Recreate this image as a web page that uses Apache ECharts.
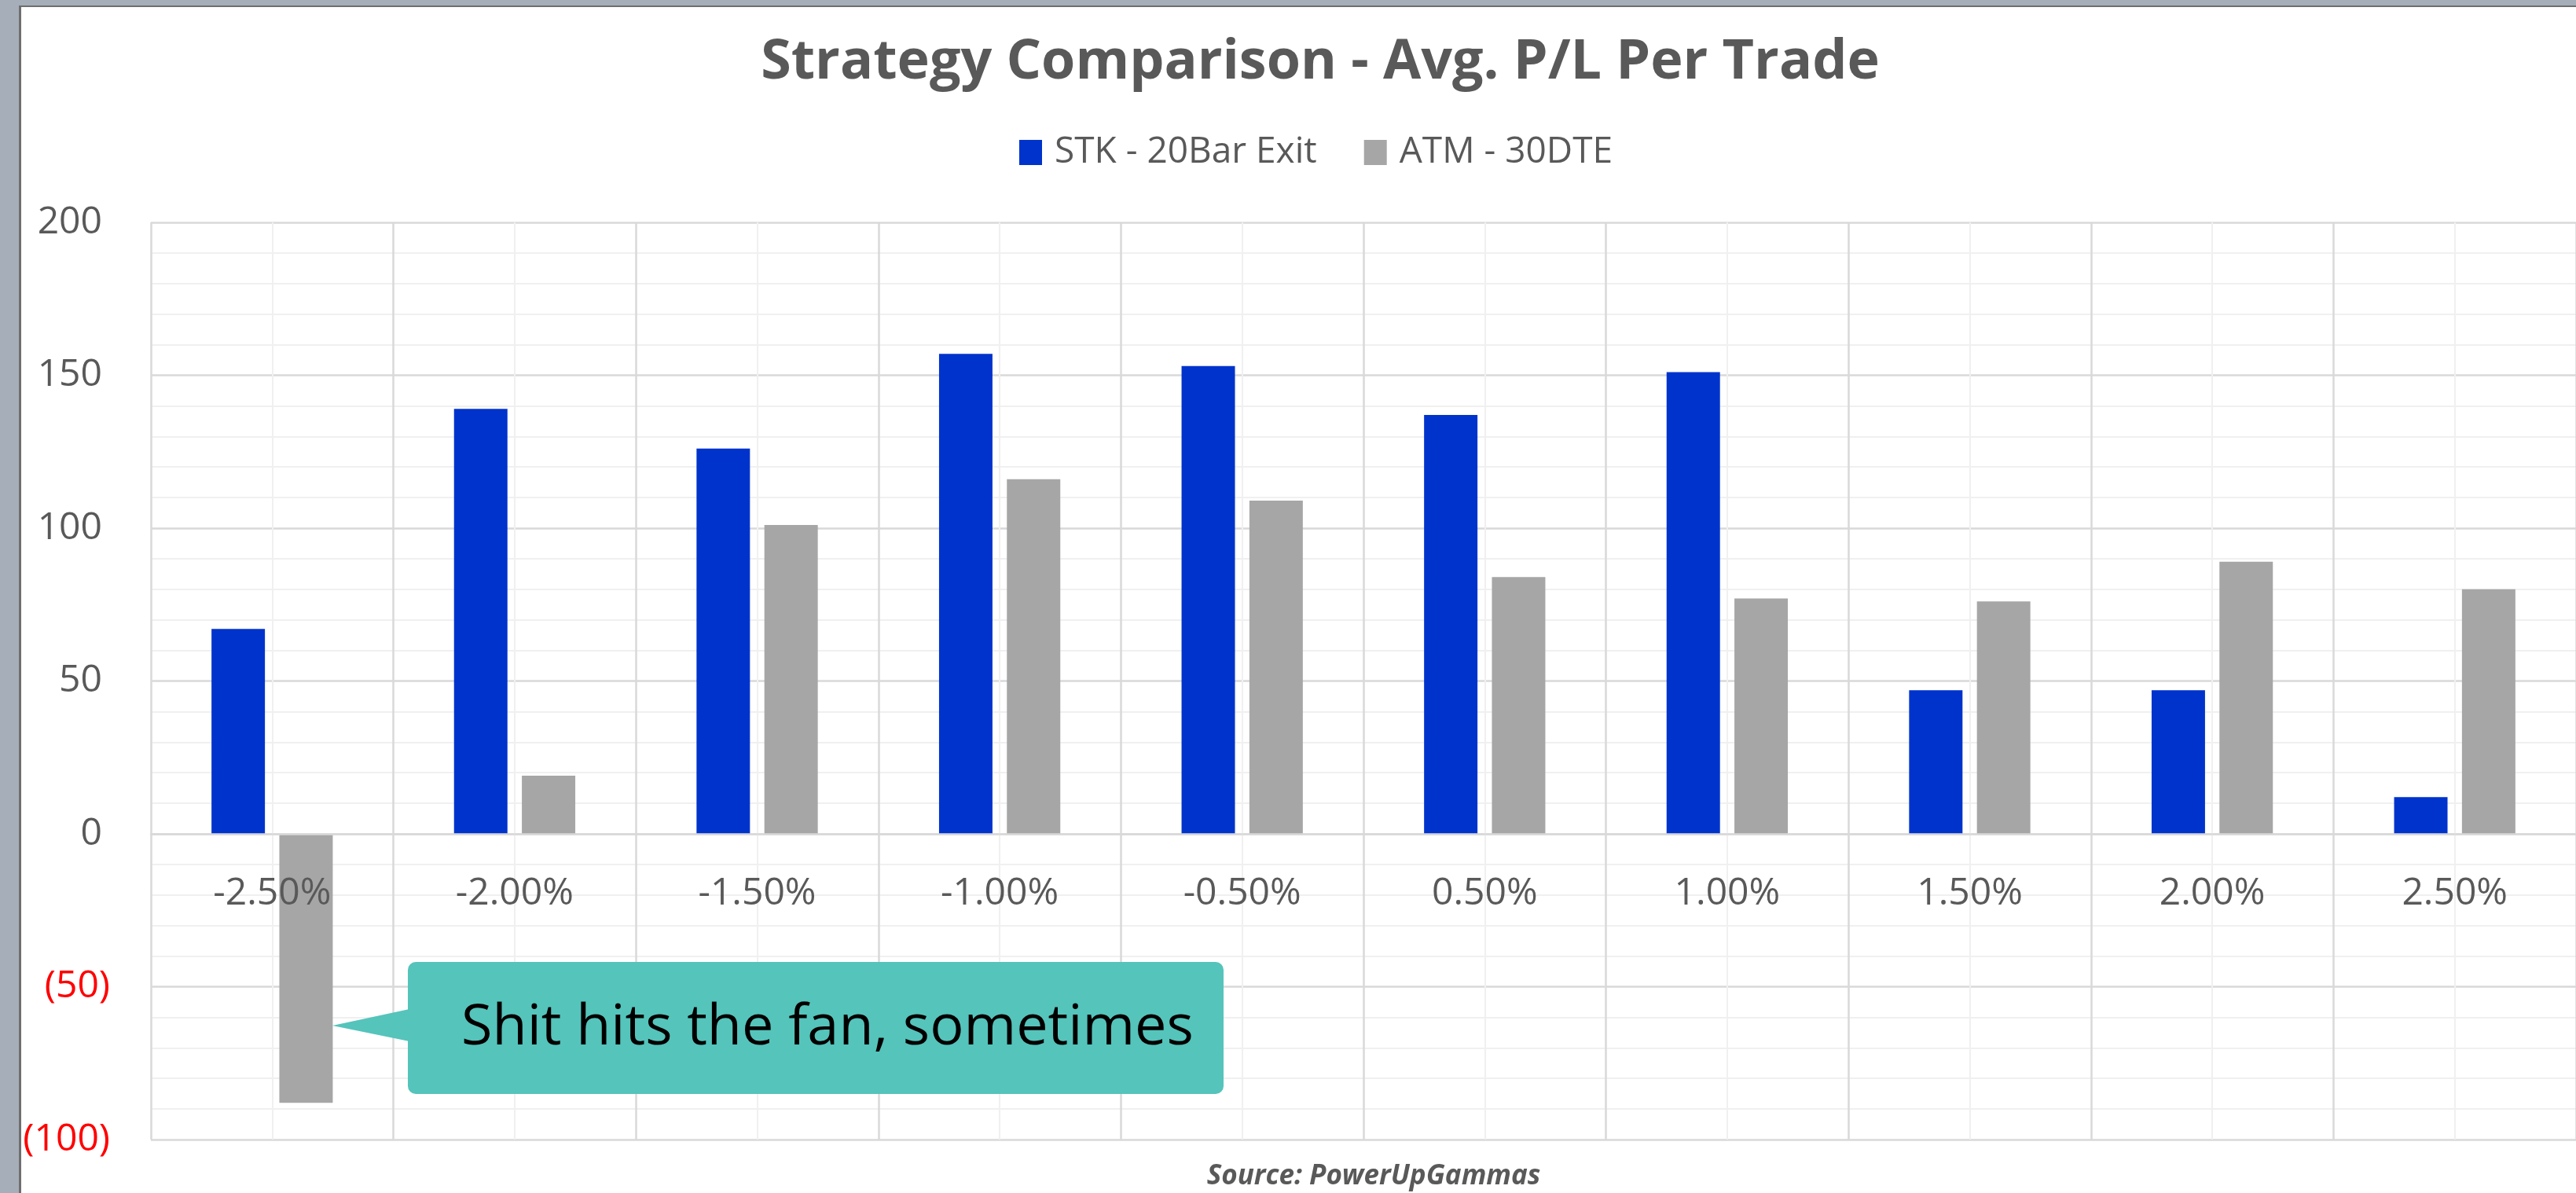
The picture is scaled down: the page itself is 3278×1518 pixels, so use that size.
<!DOCTYPE html>
<html>
<head>
<meta charset="utf-8">
<title>Strategy Comparison</title>
<script src="https://cdn.jsdelivr.net/npm/echarts@6/dist/echarts.min.js"></script>
<style>
  html, body { margin: 0; padding: 0; background: #fff; }
  #chart { width: 3278px; height: 1518px; }
</style>
</head>
<body>
<div id="chart"></div>
<script>
// strike offsets
var categories = ['-2.50%', '-2.00%', '-1.50%', '-1.00%', '-0.50%', '0.50%', '1.00%', '1.50%', '2.00%', '2.50%']

// avg P/L per trade
var stkValues = [67, 139, 126, 157, 153, 137, 151, 47, 47, 12]
var atmValues = [-88, 19, 101, 116, 109, 84, 77, 76, 89, 80]

var seriesNames = ['STK - 20Bar Exit', 'ATM - 30DTE']

var yMin = -100
var yMax = 200
var yStep = 50

var textColor = '#595959'
var font = 'Open Sans'

var gridTop = 283
var gridBottom = 68
var plotHeight = 1518 - gridTop - gridBottom
// move the category axis up to the zero line (onZero didn't take)
var zeroOffset = -plotHeight * (0 - yMin) / (yMax - yMin)

var myChart = echarts.init(document.getElementById('chart'))

var option = {
  backgroundColor: '#ffffff',
  animation: false,
  title: {
    text: 'Strategy Comparison - Avg. P/L Per Trade',
    left: 1675,
    top: 40,
    textAlign: 'center',
    textStyle: {
      fontFamily: font,
      fontWeight: 'bold',
      fontSize: 70,
      color: textColor
    }
  },
  legend: {
    data: seriesNames,
    left: 1292,
    top: 166,
    icon: 'rect',
    itemWidth: 29,
    itemHeight: 32,
    itemGap: 60,
    textStyle: {
      fontFamily: font,
      fontSize: 46,
      color: textColor,
      padding: [0, 0, 0, 11]
    }
  },
  grid: {
    left: 192,
    right: -33,
    top: gridTop,
    bottom: gridBottom,
    containLabel: false
  },
  xAxis: [
    {
      type: 'category',
      data: categories,
      position: 'bottom',
      offset: zeroOffset,
      z: 5,
      axisLine: { show: true, onZero: false, lineStyle: { color: '#d9d9d9', width: 2.5 } },
      axisTick: { show: false },
      splitLine: { show: false },
      axisLabel: {
        margin: 52,
        fontFamily: font,
        fontSize: 48,
        color: textColor
      }
    },
    {
      // only for the vertical grid lines
      type: 'value',
      position: 'top',
      min: 0,
      max: categories.length,
      interval: 1,
      axisLine: { show: false, onZero: false },
      axisTick: { show: false },
      axisLabel: { show: false },
      splitLine: { show: true, lineStyle: { color: '#d9d9d9', width: 2.5 } },
      minorTick: { show: false, splitNumber: 2 },
      minorSplitLine: { show: true, lineStyle: { color: '#f0f0f0', width: 2 } }
    }
  ],
  yAxis: {
    type: 'value',
    min: yMin,
    max: yMax,
    interval: yStep,
    axisLine: { show: false, onZero: false },
    axisTick: { show: false },
    splitLine: { show: true, lineStyle: { color: '#d9d9d9', width: 2.5 } },
    minorTick: { show: false, splitNumber: 5 },
    minorSplitLine: { show: true, lineStyle: { color: '#f0f0f0', width: 2 } },
    axisLabel: {
      margin: 52,
      fontFamily: font,
      fontSize: 48,
      formatter: function (v) {
        if (v < 0) return '{n|(' + Math.abs(v) + ')}'
        return '{p|' + v + '}'
      },
      rich: {
        n: { color: '#ff0000', fontFamily: font, fontSize: 48 },
        p: { color: textColor, fontFamily: font, fontSize: 48, padding: [0, 10, 0, 0] }
      }
    }
  },
  series: [
    {
      name: seriesNames[0],
      type: 'bar',
      xAxisIndex: 0,
      data: stkValues,
      barCategoryGap: '50%',
      barGap: '27%',
      itemStyle: { color: '#0033cc' }
    },
    {
      name: seriesNames[1],
      type: 'bar',
      xAxisIndex: 0,
      data: atmValues,
      barCategoryGap: '50%',
      barGap: '27%',
      itemStyle: { color: '#a6a6a6' }
    }
  ],
  graphic: [
    // window frame
    { type: 'rect', shape: { x: 0, y: 0, width: 24, height: 1518 }, style: { fill: '#a5aeb9' } },
    { type: 'rect', shape: { x: 0, y: 0, width: 3278, height: 7 }, style: { fill: '#a5aeb9' } },
    { type: 'rect', shape: { x: 24, y: 7, width: 3, height: 1511 }, style: { fill: '#6e6e6e' } },
    { type: 'rect', shape: { x: 24, y: 7, width: 3254, height: 2 }, style: { fill: '#6e6e6e' } },
    // callout
    {
      type: 'polygon',
      z: 50,
      shape: { points: [[423, 1305], [521, 1284], [521, 1325]] },
      style: { fill: '#55c4bb' }
    },
    {
      type: 'rect',
      z: 50,
      shape: { x: 519, y: 1224, width: 1038, height: 168, r: 10 },
      style: { fill: '#55c4bb' }
    },
    {
      type: 'text',
      z: 51,
      x: 587,
      y: 1308,
      style: {
        text: 'Shit hits the fan, sometimes',
        fontFamily: font,
        fontSize: 72,
        fill: '#000000',
        verticalAlign: 'middle'
      }
    },
    // source
    {
      type: 'text',
      x: 1748,
      y: 1497,
      style: {
        text: 'Source: PowerUpGammas',
        fontFamily: font,
        fontSize: 35,
        fontWeight: 'bold',
        fontStyle: 'italic',
        fill: textColor,
        align: 'center',
        verticalAlign: 'middle'
      }
    }
  ]
}

myChart.setOption(option)
</script>
</body>
</html>
